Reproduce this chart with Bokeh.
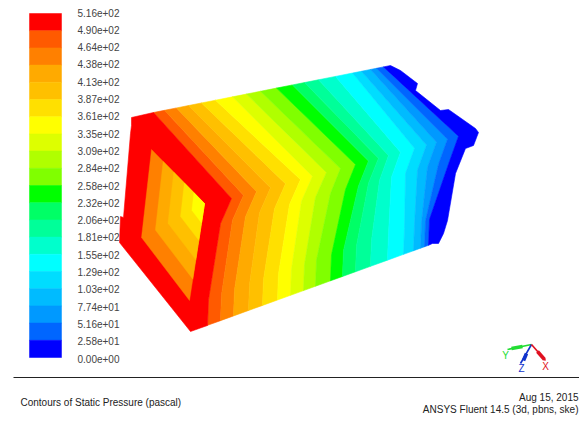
from bokeh.plotting import figure
from bokeh.embed import file_html
from bokeh.resources import INLINE
from bokeh.core.properties import value

tick_labels = ["5.16e+02", "4.90e+02", "4.64e+02", "4.38e+02", "4.13e+02", "3.87e+02", "3.61e+02",
               "3.35e+02", "3.09e+02", "2.84e+02", "2.58e+02", "2.32e+02", "2.06e+02", "1.81e+02",
               "1.55e+02", "1.29e+02", "1.03e+02", "7.74e+01", "5.16e+01", "2.58e+01", "0.00e+00"]
band_colors = ["#ff0000", "#ff5a00", "#ff8000", "#ffaa00", "#ffc000", "#ffe000", "#ffff00", "#ddff00",
               "#b0ff00", "#80ff00", "#00ff00", "#00ff66", "#00ff99", "#00ffcc", "#00ffff", "#00ddff",
               "#00bbff", "#0099ff", "#0066ff", "#0000ff"]

# image-pixel geometry
bar_left, bar_right, bar_top, bar_bottom = 29, 61, 13, 357
label_top, label_bottom, label_x = 12, 358, 77

top_x = [153, 164, 176, 188, 201, 215, 232, 246, 260, 276, 292, 304, 318, 335, 352, 361, 370, 376, 383]
mid_x = [231, 243, 256, 270, 285, 300, 312, 326, 340, 355, 368, 378, 388, 400, 414, 426, 436, 447, 458]
knee_x = [220, 232, 245, 259, 274, 289, 301, 315, 330, 345, 358, 368, 379, 391, 405, 417, 427, 438, 449]
bot_x = [207, 220, 233, 248, 262, 277, 290, 303, 315, 330, 342, 355, 370, 387, 403, 413, 420, 424, 428]

outer_x = [390, 400, 417, 415, 440, 448, 475, 478, 473, 465, 455, 447, 443, 438, 432]
outer_y = [65, 70, 83, 90, 110, 109, 128, 132, 145, 148, 173, 220, 233, 243, 243]

frame_x = [131, 131, 130, 123, 120, 119, 190, 207, 208, 220, 231, 153]
frame_y = [117, 125, 133, 217, 216, 242, 331, 325, 299, 223, 198, 112]

window_x = [151, 204, 189, 141]
window_y = [149, 203, 300, 237]
window_scale = [1.0, 0.78, 0.58, 0.38, 0.2]

triad_x = [[531, 507], [531, 520], [531, 545]]
triad_y = [[344, 349], [344, 363], [344, 360]]
cone_x = [[522, 511], [526, 523], [537, 544]]
cone_y = [[346, 348], [353, 360], [351, 359]]
triad_colors = ["#22dd33", "#1133cc", "#e01020"]
triad_names = ["Y", "Z", "X"]
triad_label_x = [505, 521, 545]
triad_label_y = [355, 368, 366]

title_left = "Contours of Static Pressure (pascal)"
date_text = "Aug 15, 2015"
solver_text = "ANSYS Fluent 14.5 (3d, pbns, ske)"

p = figure(width=579, height=415, x_range=(0, 579), y_range=(415, 0),
           output_backend="svg", toolbar_location=None, min_border=0)
p.axis.visible = False
p.grid.visible = False
p.outline_line_color = None
p.background_fill_color = "white"
p.border_fill_color = "white"

# colour bar
n = len(band_colors)
step = (bar_bottom - bar_top) / n
p.quad(left=bar_left, right=bar_right,
       top=[bar_top + i * step for i in range(n)],
       bottom=[bar_top + (i + 1) * step for i in range(n)],
       fill_color=band_colors, line_color=band_colors, line_width=0.5)

lstep = (label_bottom - label_top) / (len(tick_labels) - 1)
p.text(x=[label_x] * len(tick_labels),
       y=[label_top + i * lstep for i in range(len(tick_labels))],
       text=tick_labels, text_font=value("Liberation Sans"), text_font_size="10px",
       text_color="#444444", text_baseline="middle", text_align="left")


# side-face contour bands
def top_y(x):
    return 112 - (x - 153) * 47 / 237


def mid_y(x):
    return 198 - (x - 231) * 68 / 248


def bot_y(x):
    return 331 - (x - 190) * 88 / 243


def boundary(k):
    xb = [top_x[k], mid_x[k], knee_x[k], bot_x[k] + 1, bot_x[k]]
    yb = [top_y(top_x[k]), mid_y(mid_x[k]), mid_y(mid_x[k]) + 25, bot_y(bot_x[k]) - 26, bot_y(bot_x[k])]
    return xb, yb


xs, ys, cs = [], [], []
for k in range(len(top_x)):
    bx, by = boundary(k)
    if k + 1 < len(top_x):
        nx, ny = boundary(k + 1)
        nx, ny = nx[::-1], ny[::-1]
    else:
        nx, ny = outer_x[::-1], outer_y[::-1]
    xs.append(bx + nx)
    ys.append(by + ny)
    cs.append(band_colors[k + 1])
p.patches(xs, ys, fill_color=cs, line_color=cs, line_width=0.6)

# front face: red frame and the nested window bands
p.patch(frame_x, frame_y, fill_color=band_colors[0], line_color=band_colors[0], line_width=0.6)
wx0, wy0 = window_x[1], window_y[1]
p.patches([[wx0 + (x - wx0) * s for x in window_x] for s in window_scale],
          [[wy0 + (y - wy0) * s for y in window_y] for s in window_scale],
          fill_color=band_colors[2:7], line_color=band_colors[2:7], line_width=0.4)

# axis triad
p.multi_line(triad_x, triad_y, line_color=triad_colors, line_width=1.6)
p.multi_line(cone_x, cone_y, line_color=triad_colors, line_width=3.6)
p.text(x=triad_label_x, y=triad_label_y, text=triad_names, text_color=triad_colors,
       text_font=value("Liberation Sans"), text_font_size="10px",
       text_align="center", text_baseline="middle")

# footer
p.segment(x0=[13], y0=[377], x1=[579], y1=[377], line_color="#222222", line_width=1)
p.text(x=[20], y=[402], text=[title_left], text_font=value("Liberation Sans"), text_font_size="10px",
       text_color="#222222", text_baseline="middle", text_align="left")
p.text(x=[578, 578], y=[397, 409], text=[date_text, solver_text], text_font=value("Liberation Sans"),
       text_font_size="10px", text_color="#222222", text_baseline="middle", text_align="right")

open("out.html", "w").write(file_html(p, INLINE))
